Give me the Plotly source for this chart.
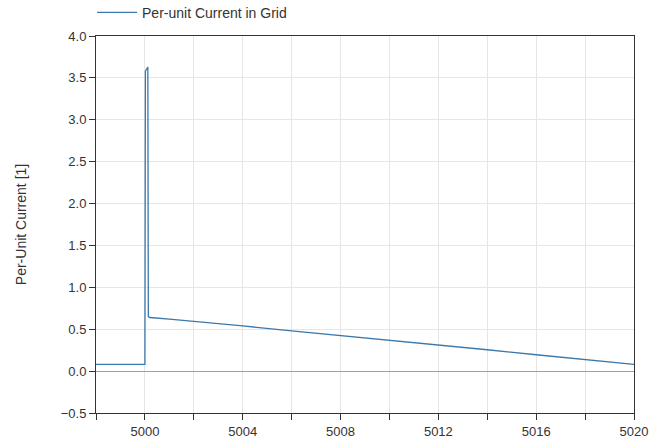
import plotly.graph_objects as go

# Data (time [s], per-unit current)
time = [4998.0, 5000.0, 5000.02, 5000.12, 5000.14, 5000.2, 5001.0, 5002.0, 5004.0,
        5006.0, 5008.0, 5010.0, 5012.0, 5014.0, 5016.0, 5018.0, 5020.0]
current = [0.08, 0.08, 3.58, 3.63, 0.65, 0.64, 0.62, 0.595, 0.54,
           0.48, 0.425, 0.37, 0.31, 0.255, 0.195, 0.14, 0.08]

series_name = "Per-unit Current in Grid"
y_title = "Per-Unit Current [1]"
x_ticks = [5000, 5004, 5008, 5012, 5016, 5020]
y_ticks = [-0.5, 0.0, 0.5, 1.0, 1.5, 2.0, 2.5, 3.0, 3.5, 4.0]

FONT = "Liberation Sans, Arial"

fig = go.Figure()
fig.add_trace(go.Scatter(x=time, y=current, mode="lines", name=series_name,
                         line=dict(color="#3b78ab", width=1.3)))

axis_common = dict(showline=True, linecolor="#333333", linewidth=1, mirror=True,
                   ticks="outside", ticklen=6, tickcolor="#333333",
                   showgrid=True, gridcolor="#e6e6e6", gridwidth=1,
                   tickfont=dict(family=FONT, size=13, color="#333333"))

fig.update_layout(
    width=661, height=445,
    margin=dict(l=96, r=27, t=36, b=32, autoexpand=False),
    paper_bgcolor="white", plot_bgcolor="white",
    showlegend=True,
    legend=dict(orientation="h", x=-0.0074, xanchor="left", y=1.019, yanchor="bottom",
                itemwidth=40,
                font=dict(family=FONT, size=14, color="#333333"),
                bgcolor="rgba(0,0,0,0)"),
    xaxis=dict(range=[4998, 5020], **axis_common),
    yaxis=dict(range=[-0.5, 4.0], tickvals=y_ticks, tickformat=".1f",
               zeroline=True, zerolinecolor="#a0a0a0", zerolinewidth=1,
               title=dict(text=y_title, font=dict(family=FONT, size=14, color="#333333"), standoff=30),
               **axis_common),
)
# Labels every 4 s while ticks/grid every 2 s
fig.update_xaxes(tickmode="array",
                 tickvals=list(range(4998, 5021, 2)),
                 ticktext=[str(v) if v in x_ticks else "" for v in range(4998, 5021, 2)])

fig.write_html("out.html")
